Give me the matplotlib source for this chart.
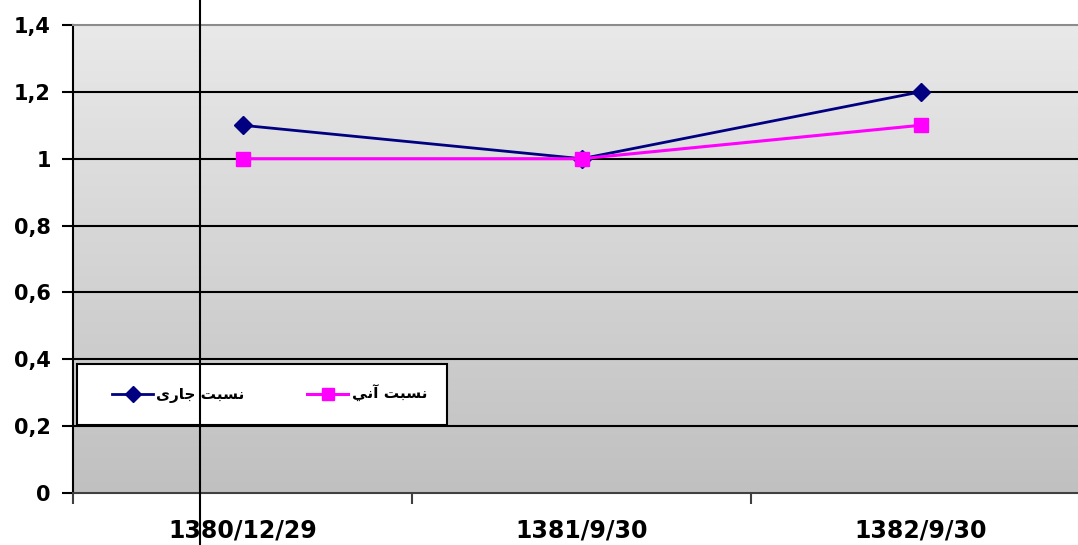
import matplotlib
matplotlib.use("Agg")
import matplotlib.pyplot as plt
import numpy as np
from matplotlib.lines import Line2D
from matplotlib.patches import Rectangle

# data
categories = ["1380/12/29", "1381/9/30", "1382/9/30"]
current_ratio = [1.1, 1.0, 1.2]     # نسبت جاری
quick_ratio = [1.0, 1.0, 1.1]       # نسبت آني
series_names = ["نسبت جاری", "نسبت آني"]
y_ticks = [0, 0.2, 0.4, 0.6, 0.8, 1.0, 1.2, 1.4]
y_tick_labels = ["0", "0,2", "0,4", "0,6", "0,8", "1", "1,2", "1,4"]


def shape_fa(text):
    # minimal arabic shaping + visual reordering for the legend labels
    forms = {
        'ن': (0xFEE5, 0xFEE6, 0xFEE7, 0xFEE8),
        'س': (0xFEB1, 0xFEB2, 0xFEB3, 0xFEB4),
        'ب': (0xFE8F, 0xFE90, 0xFE91, 0xFE92),
        'ت': (0xFE95, 0xFE96, 0xFE97, 0xFE98),
        'ج': (0xFE9D, 0xFE9E, 0xFE9F, 0xFEA0),
        'ی': (0xFBFC, 0xFBFD, 0xFBFE, 0xFBFF),
        'ي': (0xFEF1, 0xFEF2, 0xFEF3, 0xFEF4),
        'ا': (0xFE8D, 0xFE8E, None, None),
        'ر': (0xFEAD, 0xFEAE, None, None),
        'آ': (0xFE81, 0xFE82, None, None),
    }
    out = []
    for i, ch in enumerate(text):
        if ch not in forms:
            out.append(ch)
            continue
        prev = text[i - 1] if i > 0 else None
        nxt = text[i + 1] if i + 1 < len(text) else None
        j_prev = prev in forms and forms[prev][2] is not None
        j_next = nxt in forms and forms[ch][2] is not None
        iso, fin, ini, med = forms[ch]
        if j_prev and j_next:
            code = med
        elif j_prev:
            code = fin
        elif j_next:
            code = ini
        else:
            code = iso
        out.append(chr(code))
    return "".join(out[::-1])


W, H = 1078, 545
fig = plt.figure(figsize=(W / 100, H / 100), dpi=100)
fig.patch.set_facecolor("white")

# plot area runs past the right edge of the image, like the original
left, right, top, bottom = 73, 1090, 25, 493
ax = fig.add_axes([left / W, (H - bottom) / H, (right - left) / W, (bottom - top) / H])

x = np.arange(len(categories))
ax.set_xlim(-0.5, len(categories) - 0.5)
ax.set_ylim(0, 1.4)

# gradient background, light at the top
grad = np.linspace(0, 1, 256).reshape(-1, 1)
ax.imshow(grad, cmap=matplotlib.colors.LinearSegmentedColormap.from_list(
    "bg", ["#e9e9e9", "#c0c0c0"]), aspect="auto",
    extent=[0, 1, 0, 1], transform=ax.transAxes, zorder=0)

for yv in y_ticks[1:-1]:
    ax.axhline(yv, color="black", lw=1.5, zorder=1)

ax.plot(x, current_ratio, color="#000080", lw=2.0, marker="D", markersize=9,
        zorder=3, clip_on=False)
ax.plot(x, quick_ratio, color="#ff00ff", lw=2.2, marker="s", markersize=9.5,
        zorder=4, clip_on=False)

ax.set_yticks(y_ticks)
ax.set_yticklabels(y_tick_labels, fontsize=15, fontweight="bold", family="DejaVu Sans")
ax.set_xticks(x)
ax.set_xticklabels(categories, fontsize=17, fontweight="bold", family="DejaVu Sans")
ax.set_xticks(np.arange(-0.5, len(categories)), minor=True)
ax.tick_params(axis="x", which="major", length=0, pad=18)
ax.tick_params(axis="x", which="minor", length=8, width=1.5, color="#404040")
ax.tick_params(axis="y", length=8, width=1.5, pad=8)

ax.spines["left"].set_linewidth(1.5)
ax.spines["left"].set_color("black")
ax.spines["bottom"].set_linewidth(1.5)
ax.spines["bottom"].set_color("#404040")
ax.spines["top"].set_linewidth(1.5)
ax.spines["top"].set_color("#8c8c8c")
ax.spines["right"].set_visible(False)

# legend box
def px(xp, yp):
    return ((xp - left) / (right - left), (bottom - yp) / (bottom - top))

x0, y0 = px(77, 425)
x1, y1 = px(447, 364)
ax.add_patch(Rectangle((x0, y0), x1 - x0, y1 - y0, transform=ax.transAxes,
                       facecolor="white", edgecolor="black", lw=1.5, zorder=5))

handles = [Line2D([], [], color="#000080", lw=2.0, marker="D", markersize=8),
           Line2D([], [], color="#ff00ff", lw=2.2, marker="s", markersize=9)]
lx, ly = px(112, 394)
leg = ax.legend(handles, [shape_fa(s) for s in series_names], ncol=2,
                loc="center left", bbox_to_anchor=(lx, ly), frameon=False,
                handlelength=2.7, handletextpad=0.2, columnspacing=4.1,
                borderpad=0, borderaxespad=0,
                prop={"family": "DejaVu Sans", "weight": "bold", "size": 11})
leg.set_zorder(6)

# stray vertical line from the source image
fig.add_artist(Line2D([200 / W, 200 / W], [0, 1], color="black", lw=1.5))

fig.savefig("out.png", dpi=100)
